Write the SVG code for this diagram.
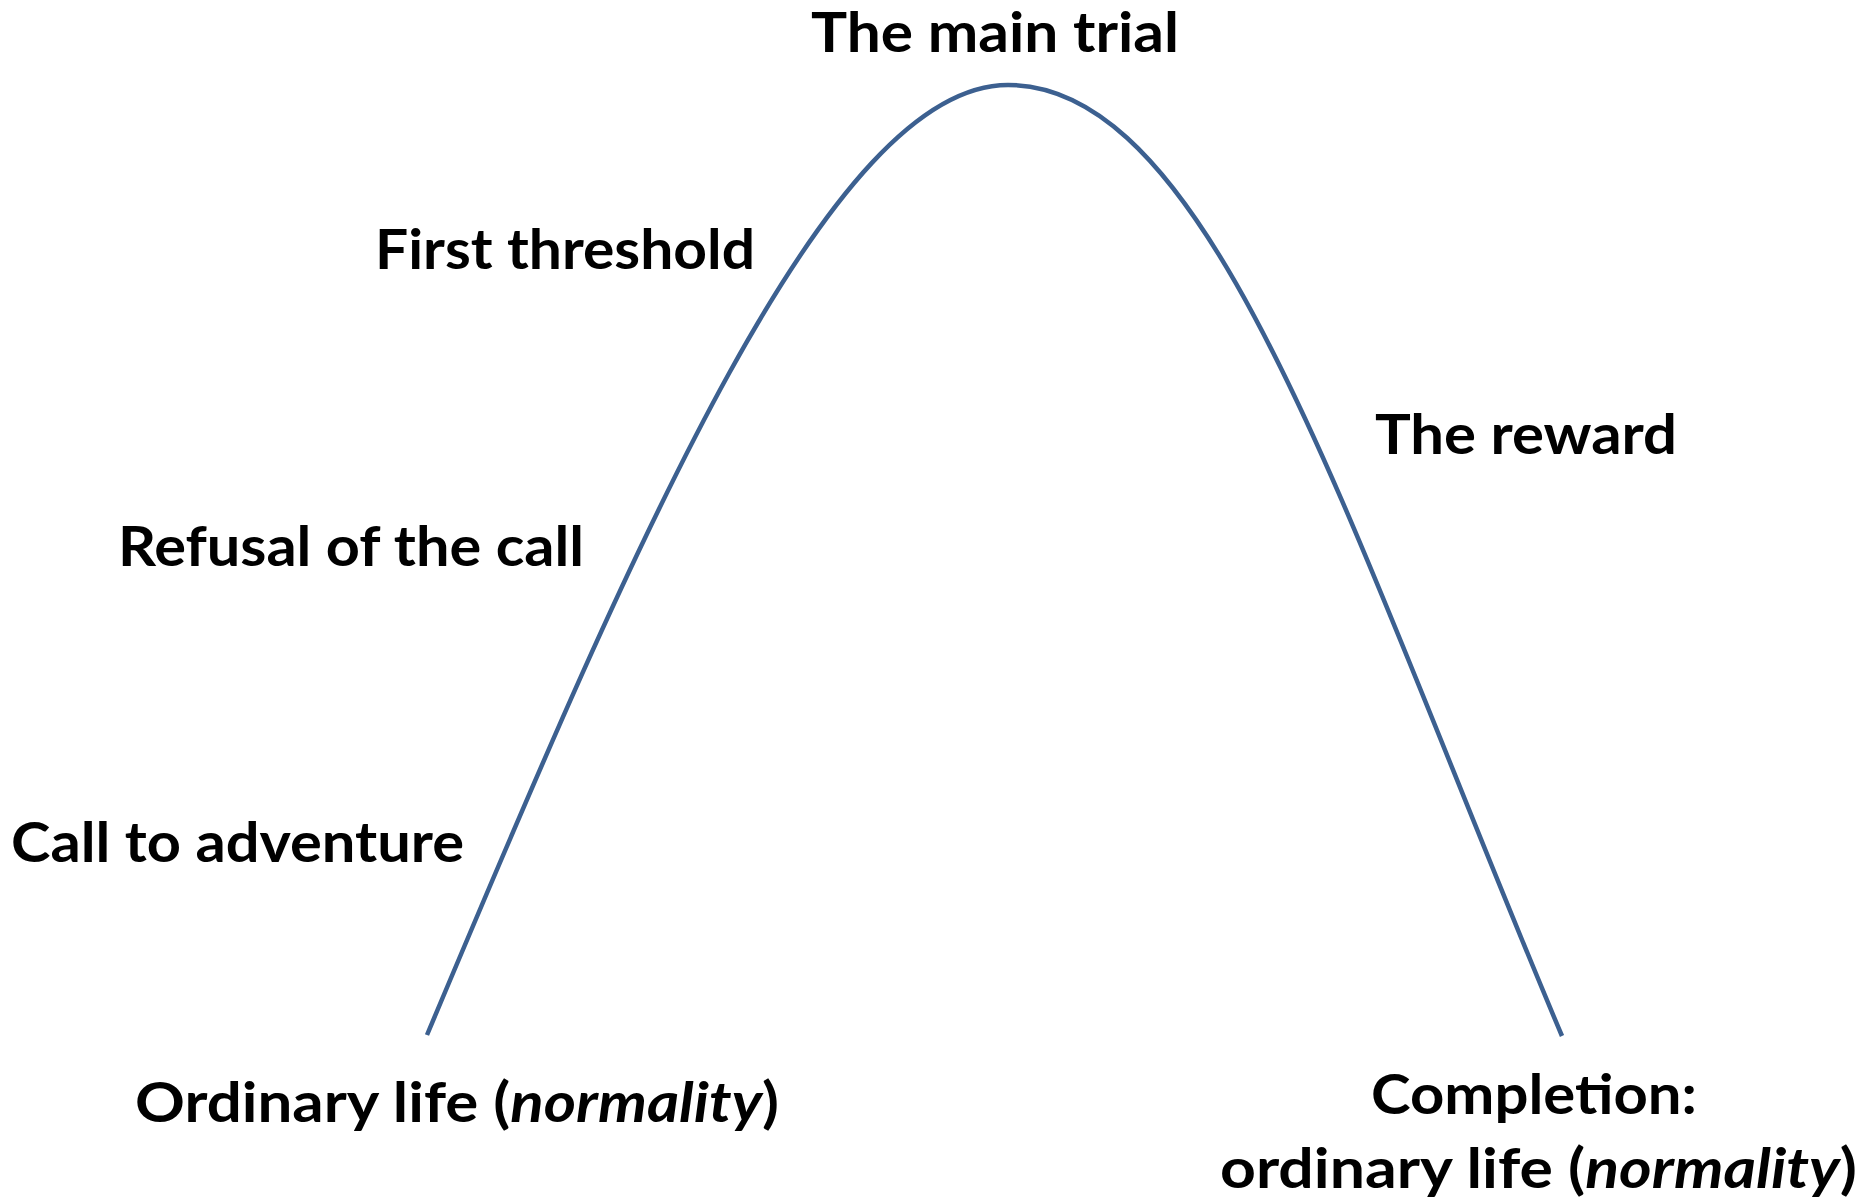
<svg xmlns="http://www.w3.org/2000/svg" width="1864" height="1198" viewBox="0 0 1864 1198">
  <style>
    .lbl { font-family: Lato, "Open Sans", "Liberation Sans", sans-serif; font-weight: bold; font-size: 56px; fill: #000; }
    .it { font-style: italic; }
    .curve { fill: none; stroke: #3c6090; stroke-width: 4.5; }
  </style>
  <rect width="1864" height="1198" fill="#fff"/>
  <g id="connectors">
    <path class="curve" d="M427,1035 C637,535 830,85 1008,85 C1215,85 1350,535 1562,1036"/>
  </g>
  <g id="node-main-trial">
    <text class="lbl" x="811" y="52" textLength="368" lengthAdjust="spacingAndGlyphs">The main trial</text>
  </g>
  <g id="node-first-threshold">
    <text class="lbl" x="375" y="269" textLength="380" lengthAdjust="spacingAndGlyphs">First threshold</text>
  </g>
  <g id="node-refusal">
    <text class="lbl" x="118" y="566" textLength="466" lengthAdjust="spacingAndGlyphs">Refusal of the call</text>
  </g>
  <g id="node-call">
    <text class="lbl" x="11" y="862" textLength="453" lengthAdjust="spacingAndGlyphs">Call to adventure</text>
  </g>
  <g id="node-reward">
    <text class="lbl" x="1375" y="454" textLength="302" lengthAdjust="spacingAndGlyphs">The reward</text>
  </g>
  <g id="node-ordinary">
    <text class="lbl" x="135" y="1122" textLength="644" lengthAdjust="spacingAndGlyphs">Ordinary life (<tspan class="it">normality</tspan>)</text>
  </g>
  <g id="node-completion">
    <text class="lbl" x="1371" y="1114" textLength="326" lengthAdjust="spacingAndGlyphs">Completion:</text>
    <text class="lbl" x="1220" y="1188" textLength="637" lengthAdjust="spacingAndGlyphs">ordinary life (<tspan class="it">normality</tspan>)</text>
  </g>
</svg>
